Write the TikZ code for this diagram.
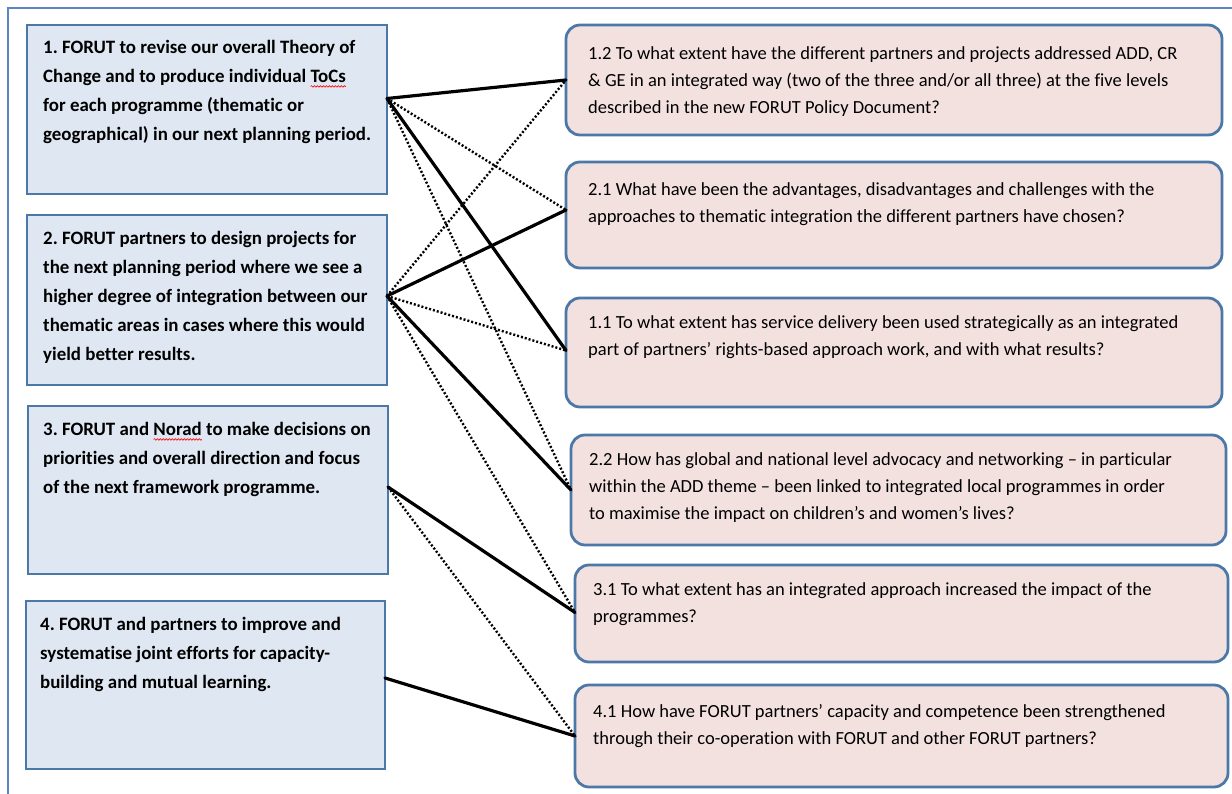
\documentclass[tikz,border=0pt]{standalone}
\usepackage{fontspec}
\setmainfont{Carlito}[Ligatures=NoCommon]
\usetikzlibrary{decorations.pathmorphing}
\definecolor{lfill}{HTML}{DFE7F2}
\definecolor{rfill}{HTML}{F3E1E0}
\definecolor{bord}{HTML}{4C78A8}
\definecolor{framec}{HTML}{5B86C0}
\newsavebox\wavebox
\newcommand\spellwave[1]{\sbox\wavebox{#1}\tikz[overlay,x=1pt,y=1pt]\draw[red,line width=0.6pt,decorate,decoration={snake,amplitude=0.8pt,segment length=3pt}] (0pt,-4pt) -- (\the\wd\wavebox,-4pt);\usebox\wavebox}
\frenchspacing
\begin{document}
\begin{tikzpicture}[x=1pt,y=-1pt,
  lbox/.style={draw=bord, line width=2.8pt, fill=lfill, anchor=north west, inner sep=0pt, outer sep=0pt},
  rbox/.style={draw=bord, line width=2.8pt, fill=rfill, rounded corners=14pt, anchor=north west, inner sep=0pt, outer sep=0pt},
  ltext/.style={anchor=north west, inner sep=0pt, align=left, font=\fontsize{18.9pt}{29pt}\selectfont\bfseries},
  rtext/.style={anchor=north west, inner sep=0pt, align=left, font=\fontsize{18.5pt}{27pt}\selectfont},
  strong/.style={line width=3.2pt, line cap=round},
  weak/.style={line width=2.4pt, dash pattern=on 2pt off 2pt}]
\useasboundingbox (0,0) rectangle (1232,794);
\draw[framec, line width=1.5pt] (8,794) -- (8,8) -- (1232,8);

% left boxes
\node[lbox, minimum width=360pt, minimum height=169pt] (b1) at (27,25) {};
\node[lbox, minimum width=360pt, minimum height=170pt] (b2) at (27,215) {};
\node[lbox, minimum width=360pt, minimum height=168pt] (b3) at (28,406) {};
\node[lbox, minimum width=359pt, minimum height=168pt] (b4) at (26,601) {};

\node[ltext] (t1) at (43,40) {1. FORUT to revise our overall Theory of\\Change and to produce individual \spellwave{ToCs}\\for each programme (thematic or\\geographical) in our next planning period.};
\node[ltext] (t2) at (43,231) {2. FORUT partners to design projects for\\the next planning period where we see a\\higher degree of integration between our\\thematic areas in cases where this would\\yield better results.};
\node[ltext] (t3) at (43,422) {3. FORUT and \spellwave{Norad} to make decisions on\\priorities and overall direction and focus\\of the next framework programme.};
\node[ltext] (t4) at (40,617) {4. FORUT and partners to improve and\\systematise joint efforts for capacity-\\building and mutual learning.};

% right boxes
\node[rbox, minimum width=656pt, minimum height=110pt] (r1) at (566,25) {};
\node[rbox, minimum width=656pt, minimum height=106pt] (r2) at (566,162) {};
\node[rbox, minimum width=656pt, minimum height=109pt] (r3) at (566,298) {};
\node[rbox, minimum width=655pt, minimum height=110pt] (r4) at (571,435) {};
\node[rbox, minimum width=653pt, minimum height=97pt] (r5) at (575,565) {};
\node[rbox, minimum width=653pt, minimum height=102pt] (r6) at (575,685) {};

\node[rtext] (u1) at (588,46) {1.2 To what extent have the different partners and projects addressed ADD, CR\\\& GE in an integrated way (two of the three and/or all three) at the five levels\\described in the new FORUT Policy Document?};
\node[rtext] (u2) at (588,182) {2.1 What have been the advantages, disadvantages and challenges with the\\approaches to thematic integration the different partners have chosen?};
\node[rtext] (u3) at (588,315) {1.1 To what extent has service delivery been used strategically as an integrated\\part of partners’ rights-based approach work, and with what results?};
\node[rtext] (u4) at (589,452) {2.2 How has global and national level advocacy and networking – in particular\\within the ADD theme – been linked to integrated local programmes in order\\to maximise the impact on children’s and women’s lives?};
\node[rtext] (u5) at (593,582) {3.1 To what extent has an integrated approach increased the impact of the\\programmes?};
\node[rtext] (u6) at (593,704) {4.1 How have FORUT partners’ capacity and competence been strengthened\\through their co-operation with FORUT and other FORUT partners?};

% connection points
\coordinate (s1) at ([yshift=11pt]b1.east);
\coordinate (s2) at ([yshift=4pt]b2.east);
\coordinate (s3) at ([yshift=3pt]b3.east);
\coordinate (s4) at ([yshift=7pt]b4.east);
\coordinate (e1) at (r1.west);
\coordinate (e2) at ([yshift=5pt]r2.west);
\coordinate (e3) at ([yshift=2pt]r3.west);
\coordinate (e4) at (r4.west);
\coordinate (e5) at ([yshift=1pt]r5.west);
\coordinate (e6) at (r6.west);

\draw[strong] (s1) -- (e1);
\draw[strong] (s1) -- (e3);
\draw[weak] (s1) -- (e2);
\draw[weak] (s1) -- (e4);
\draw[strong] (s2) -- (e2);
\draw[strong] (s2) -- (e4);
\draw[weak] (s2) -- (e1);
\draw[weak] (s2) -- (e3);
\draw[weak] (s2) -- (e5);
\draw[strong] (s3) -- (e5);
\draw[weak] (s3) -- (e6);
\draw[strong] (s4) -- (e6);
\end{tikzpicture}
\end{document}
